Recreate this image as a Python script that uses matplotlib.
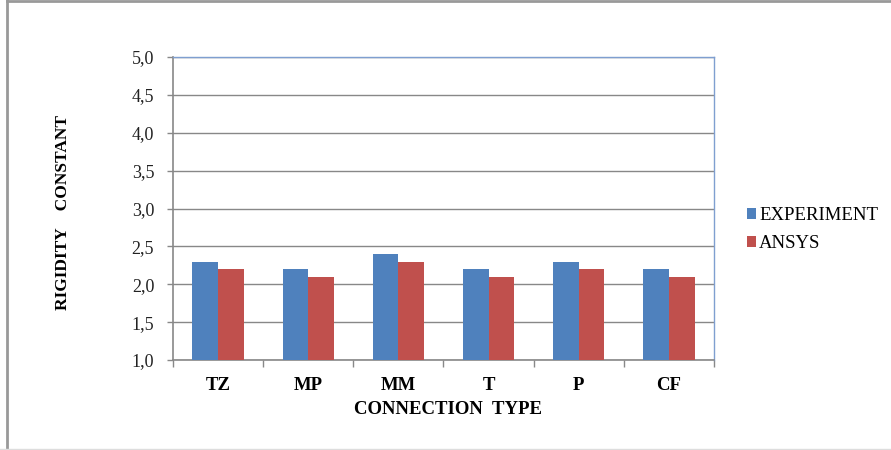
import matplotlib
matplotlib.use("Agg")
import matplotlib.pyplot as plt
import numpy as np
from matplotlib.patches import Patch
from matplotlib.lines import Line2D

categories = ["TZ", "MP", "MM", "T", "P", "CF"]
experiment = [2.3, 2.2, 2.4, 2.2, 2.3, 2.2]
ansys = [2.2, 2.1, 2.3, 2.1, 2.2, 2.1]
yticks = [1.0, 1.5, 2.0, 2.5, 3.0, 3.5, 4.0, 4.5, 5.0]
series_names = ["EXPERIMENT", "ANSYS"]

blue = "#4F81BD"
red = "#C0504D"
serif = ["Liberation Serif", "DejaVu Serif"]

fig = plt.figure(figsize=(8.91, 4.5), dpi=100)
ax = fig.add_axes([173/891, 1-360/450, 541/891, 303/450])

x = np.arange(len(categories))
w = 0.285
ax.bar(x - w/2, np.array(experiment) - 1.0, w, bottom=1.0, color=blue, zorder=3)
ax.bar(x + w/2, np.array(ansys) - 1.0, w, bottom=1.0, color=red, zorder=3)

ax.set_xlim(-0.5, len(categories) - 0.5)
ax.set_ylim(1.0, 5.0)
ax.set_yticks(yticks)
ax.set_yticklabels([f"{v:.1f}".replace(".", ",") for v in yticks],
                   fontfamily=serif, fontsize=13, color="#222222")
ax.yaxis.grid(True, color="#888888", linewidth=1.0, zorder=0)
ax.tick_params(axis="y", length=4.5, width=1, color="#888888", pad=9)

ax.set_xticks(np.arange(-0.5, len(categories)), minor=False)
ax.set_xticklabels([])
ax.set_xticks(x, minor=True)
ax.set_xticklabels(categories, minor=True, fontfamily=serif, fontsize=13.5,
                   fontweight="bold")
ax.tick_params(axis="x", which="major", length=5, width=1, color="#888888")
ax.tick_params(axis="x", which="minor", length=0, pad=12)

for s in ["left", "bottom"]:
    ax.spines[s].set_color("#888888")
    ax.spines[s].set_linewidth(1.2)
for s in ["top", "right"]:
    ax.spines[s].set_color("#7F9FD0")
    ax.spines[s].set_linewidth(1.0)

fig.text(63/891, 1-213/450, "RIGIDITY    CONSTANT", rotation=90,
         ha="center", va="center", fontfamily=serif, fontsize=12.5,
         fontweight="bold")
fig.text(448/891, 1-410/450, "CONNECTION  TYPE", ha="center", va="center",
         fontfamily=serif, fontsize=13.5, fontweight="bold")

handles = [Patch(facecolor=blue), Patch(facecolor=red)]
fig.legend(handles, series_names, loc="upper left",
           bbox_to_anchor=(730/891, 1-190/450), frameon=False,
           handlelength=0.5, handleheight=0.5, handletextpad=0.15,
           labelspacing=0.6, prop={"family": serif, "size": 13.5})

# outer frame lines
fig.add_artist(Line2D([7/891, 7/891], [0, 1], color="#999999", lw=2,
                      transform=fig.transFigure))
fig.add_artist(Line2D([7/891, 1], [1-1/450, 1-1/450], color="#999999", lw=2,
                      transform=fig.transFigure))
fig.add_artist(Line2D([0, 1], [1-449/450, 1-449/450], color="#DDDDDD", lw=1,
                      transform=fig.transFigure))

fig.savefig("out.png", dpi=100)
